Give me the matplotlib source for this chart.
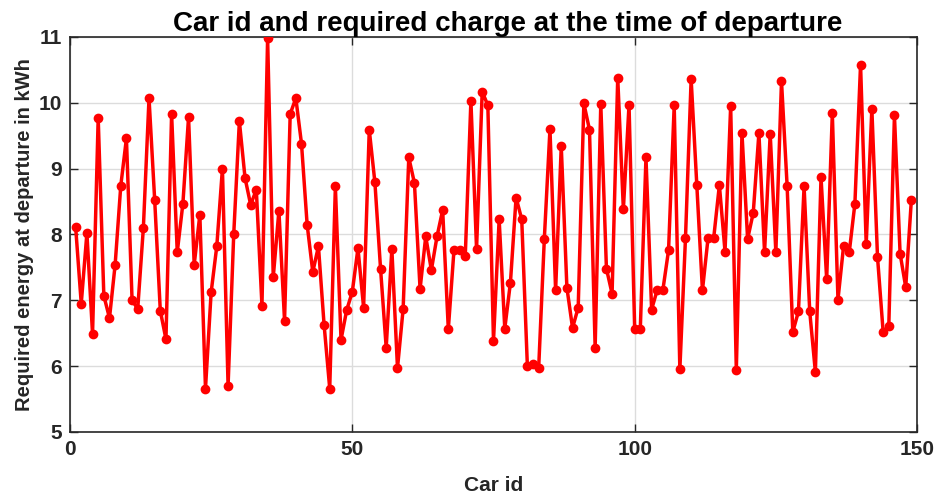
import matplotlib
matplotlib.use("Agg")
import matplotlib.pyplot as plt
import numpy as np

car_id = list(range(1, 150))
required_energy = [
    8.12, 6.95, 8.02, 6.49, 9.77, 7.07, 6.73, 7.54, 8.74, 9.46,
    7.00, 6.87, 8.10, 10.07, 8.53, 6.84, 6.41, 9.83, 7.73, 8.47,
    9.78, 7.54, 8.30, 5.66, 7.12, 7.82, 9.00, 5.70, 8.00, 9.72,
    8.86, 8.45, 8.68, 6.92, 10.98, 7.35, 8.36, 6.69, 9.83, 10.07,
    9.38, 8.15, 7.43, 7.82, 6.63, 5.66, 8.73, 6.40, 6.85, 7.13,
    7.79, 6.89, 9.59, 8.79, 7.48, 6.28, 7.78, 5.97, 6.87, 9.17,
    8.78, 7.17, 7.97, 7.46, 7.97, 8.37, 6.56, 7.76, 7.76, 7.67,
    10.03, 7.78, 10.17, 9.96, 6.38, 8.23, 6.57, 7.27, 8.56, 8.23,
    6.00, 6.04, 5.97, 7.93, 9.60, 7.15, 9.34, 7.19, 6.58, 6.89,
    9.99, 9.59, 6.28, 9.98, 7.48, 7.10, 10.38, 8.38, 9.97, 6.57,
    6.57, 9.17, 6.86, 7.16, 7.16, 7.76, 9.96, 5.95, 7.95, 10.36,
    8.75, 7.15, 7.95, 7.95, 8.75, 7.74, 9.95, 5.94, 9.54, 7.93,
    8.33, 9.54, 7.73, 9.53, 7.73, 10.33, 8.73, 6.52, 6.83, 8.73,
    6.83, 5.91, 8.87, 7.32, 9.84, 7.01, 7.83, 7.73, 8.47, 10.58,
    7.85, 9.91, 7.66, 6.52, 6.61, 9.81, 7.71, 7.20, 8.53,
]
x_ticks = [0, 50, 100, 150]
y_ticks = [5, 6, 7, 8, 9, 10, 11]

plt.rcParams['font.family'] = ['Liberation Sans', 'DejaVu Sans']
plt.rcParams['font.weight'] = 'bold'

fig = plt.figure(figsize=(9.39, 4.99), dpi=100)
ax = fig.add_axes([0.0745, 0.1343, 0.9021, 0.7917])

ax.plot(car_id, required_energy, '-o', color='red', linewidth=2.5,
        markersize=5.5, markerfacecolor='red', markeredgecolor='red',
        markeredgewidth=1.5, zorder=3)

ax.set_xlim(0, 150)
ax.set_ylim(5, 11)
ax.set_xticks(x_ticks)
ax.set_yticks(y_ticks)
ax.grid(True, color='#dcdcdc', linewidth=1.0, zorder=0)
ax.set_axisbelow(True)
for s in ax.spines.values():
    s.set_color('#262626')
    s.set_linewidth(1.2)
ax.tick_params(direction='in', length=6, width=1.0, top=True, right=True,
               labelsize=15, colors='#262626', pad=6)
for lab in ax.get_xticklabels() + ax.get_yticklabels():
    lab.set_fontweight('bold')
    lab.set_color('#262626')

ax.set_title('Car id and required charge at the time of departure',
             fontsize=20, fontweight='bold', pad=4, x=0.517)
ax.set_xlabel('Car id', fontsize=15, fontweight='bold', color='#262626', labelpad=12)
ax.set_ylabel('Required energy at departure in kWh', fontsize=14.5,
              fontweight='bold', color='#262626', labelpad=3)

fig.savefig('out.png', dpi=100)
